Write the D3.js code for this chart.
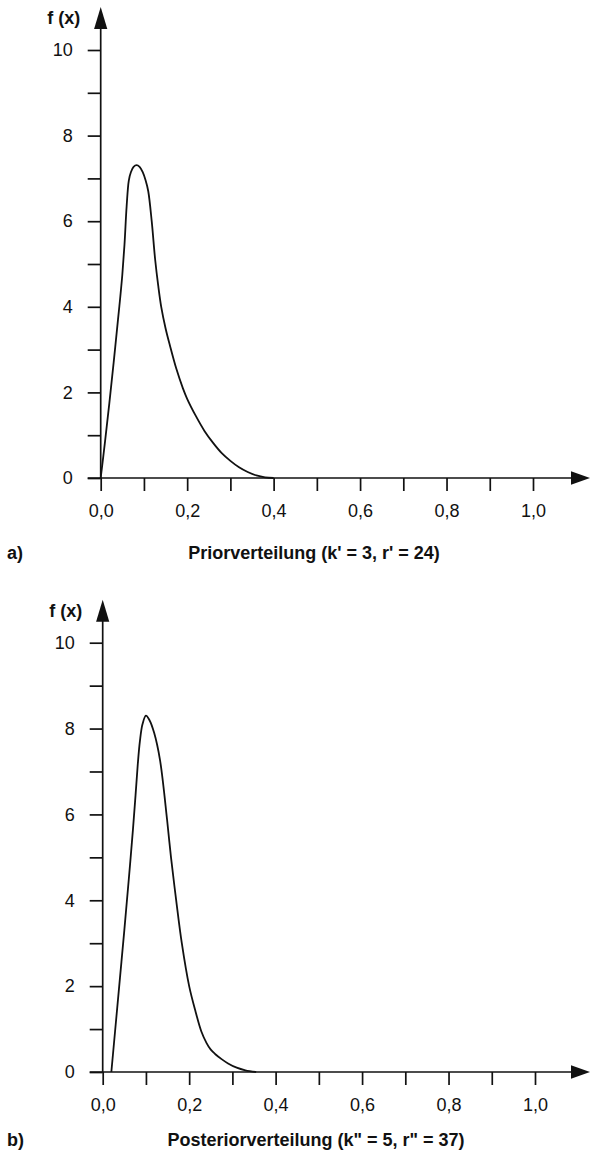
<!DOCTYPE html>
<html>
<head>
<meta charset="utf-8">
<script src="https://cdn.jsdelivr.net/npm/d3@7"></script>
<style>
    body { margin: 0; background: #fff; }
    svg text { font-family: "Liberation Sans", Arial, Helvetica, sans-serif; fill: #111; }
</style>
</head>
<body>
<svg id="chart" width="590" height="1153"></svg>
<script>
// tick values
var xTicks = [0, 0.1, 0.2, 0.3, 0.4, 0.5, 0.6, 0.7, 0.8, 0.9, 1.0];
var yTicks = [0, 1, 2, 3, 4, 5, 6, 7, 8, 9, 10];

// a) prior density
var priorX = [0, 0.01, 0.02, 0.03, 0.04, 0.045, 0.05, 0.055, 0.06, 0.065, 0.07, 0.076, 0.083, 0.09, 0.097, 0.104, 0.11,
    0.118, 0.126, 0.133, 0.14, 0.15, 0.16, 0.175, 0.19, 0.2, 0.22, 0.24, 0.26, 0.28, 0.3, 0.32, 0.34, 0.36, 0.38, 0.4];
var priorY = [0, 0.85, 1.75, 2.7, 3.7, 4.2, 4.75, 5.45, 6.35, 6.95, 7.15, 7.27, 7.31, 7.27, 7.15, 6.95, 6.7,
    6.0, 5.1, 4.5, 4.0, 3.5, 3.1, 2.55, 2.1, 1.85, 1.45, 1.1, 0.82, 0.58, 0.4, 0.25, 0.14, 0.06, 0.015, 0];

// b) posterior density
var postX = [0.02, 0.03, 0.04, 0.05, 0.06, 0.07, 0.076, 0.081, 0.086, 0.092, 0.1, 0.108, 0.119, 0.1325, 0.149,
    0.158, 0.17, 0.183, 0.2, 0.215, 0.228, 0.24, 0.25, 0.26, 0.275, 0.29, 0.31, 0.33, 0.355];
var postY = [0, 1.1, 2.2, 3.3, 4.45, 5.65, 6.45, 7.15, 7.7, 8.1, 8.3, 8.2, 7.9, 7.27, 5.87,
    5.0, 4.0, 3.0, 2.0, 1.4, 0.95, 0.68, 0.52, 0.42, 0.3, 0.2, 0.1, 0.04, 0];

var panels = [
    { tag: 'a)', title: "Priorverteilung (k' = 3, r' = 24)", xs: priorX, ys: priorY,
      left: 100.7, bottom: 478, top: 50, titleY: 559, titleX: 314 },
    { tag: 'b)', title: 'Posteriorverteilung (k" = 5, r" = 37)', xs: postX, ys: postY,
      left: 102.7, bottom: 1072, top: 642.7, titleY: 1146, titleX: 316 }
];

var svg = d3.select('#chart');
var de = d3.formatLocale({ decimal: ',', thousands: '.', grouping: [3], currency: ['', ' €'] });
var fmt = de.format('.1f');
var ink = '#111';

panels.forEach(function (p) {
    var x = d3.scaleLinear().domain([0, 1]).range([p.left, p.left + 432.3]);
    var y = d3.scaleLinear().domain([0, 10]).range([p.bottom, p.top]);
    var g = svg.append('g');

    var xAxis = g.append('g')
        .attr('transform', 'translate(0,' + p.bottom + ')')
        .call(d3.axisBottom(x).tickValues(xTicks).tickSize(13).tickPadding(13)
            .tickFormat(function (d) { return Math.round(d * 10) % 2 ? '' : fmt(d); }));
    var yAxis = g.append('g')
        .attr('transform', 'translate(' + p.left + ',0)')
        .call(d3.axisLeft(y).tickValues(yTicks).tickSize(13).tickPadding(15)
            .tickFormat(function (d) { return d % 2 ? '' : d; }));

    [xAxis, yAxis].forEach(function (a) {
        a.select('.domain').remove();
        a.attr('font-family', null).attr('font-size', null);
        a.selectAll('line').attr('stroke', ink).attr('stroke-width', 1.7);
        a.selectAll('text').attr('font-size', 18).attr('fill', ink);
    });

    // axis lines with arrow heads
    g.append('line')
        .attr('x1', p.left - 13).attr('x2', 578)
        .attr('y1', p.bottom).attr('y2', p.bottom)
        .attr('stroke', ink).attr('stroke-width', 1.7);
    g.append('path')
        .attr('d', 'M590,' + p.bottom + 'L571,' + (p.bottom - 6.7) + 'L571,' + (p.bottom + 6.7) + 'Z')
        .attr('fill', ink);
    g.append('line')
        .attr('x1', p.left).attr('x2', p.left)
        .attr('y1', p.bottom).attr('y2', p.top - 30)
        .attr('stroke', ink).attr('stroke-width', 1.7);
    g.append('path')
        .attr('d', 'M' + p.left + ',' + (p.top - 43) + 'L' + (p.left - 6.6) + ',' + (p.top - 21) +
            'L' + (p.left + 6.6) + ',' + (p.top - 21) + 'Z')
        .attr('fill', ink);

    // density curve
    var pts = p.xs.map(function (v, i) { return [v, p.ys[i]]; });
    g.append('path')
        .datum(pts)
        .attr('fill', 'none')
        .attr('stroke', ink)
        .attr('stroke-width', 1.8)
        .attr('d', d3.line()
            .x(function (d) { return x(d[0]); })
            .y(function (d) { return y(d[1]); })
            .curve(d3.curveCatmullRom.alpha(0.5)));

    // labels
    g.append('text')
        .attr('x', p.left - 37).attr('y', p.top - 26)
        .attr('text-anchor', 'middle')
        .attr('font-size', 18).attr('font-weight', 'bold')
        .text('f (x)');
    g.append('text')
        .attr('x', 7).attr('y', p.titleY)
        .attr('font-size', 18).attr('font-weight', 'bold')
        .text(p.tag);
    g.append('text')
        .attr('x', p.titleX).attr('y', p.titleY)
        .attr('text-anchor', 'middle')
        .attr('font-size', 18).attr('font-weight', 'bold')
        .text(p.title);
});
</script>
</body>
</html>
